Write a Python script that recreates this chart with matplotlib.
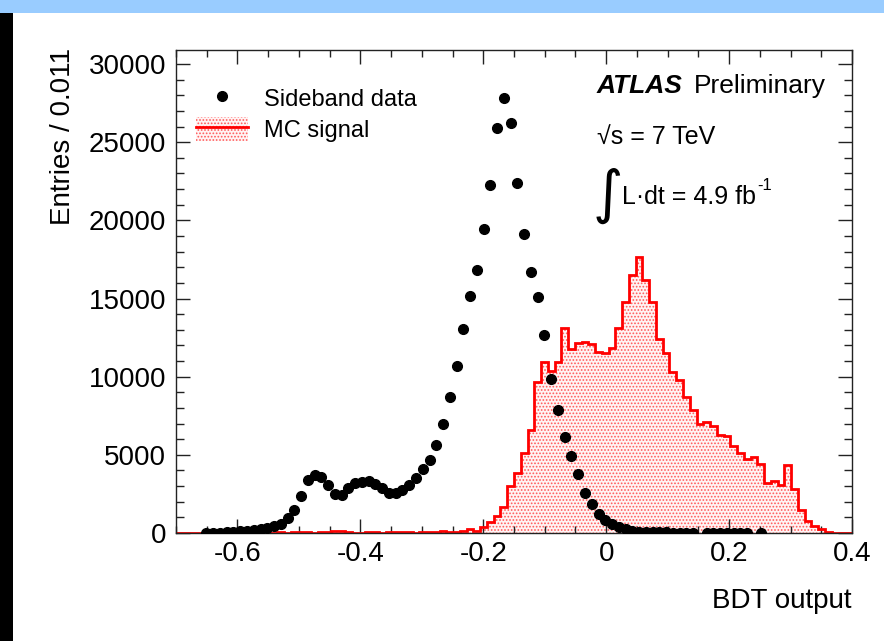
import numpy as np
import matplotlib
matplotlib.use("Agg")
import matplotlib.pyplot as plt
from matplotlib.patches import Rectangle, Patch
from matplotlib.lines import Line2D
from matplotlib.ticker import MultipleLocator

plt.rcParams["font.family"] = ["Liberation Sans", "DejaVu Sans"]
plt.rcParams["axes.unicode_minus"] = False
plt.rcParams["hatch.linewidth"] = 0.8

# Binning of the BDT output: 100 bins of width 0.011
x_min, x_max, n_bins = -0.7, 0.4, 100
edges = np.linspace(x_min, x_max, n_bins + 1)
centers = 0.5 * (edges[:-1] + edges[1:])

# Sideband data, entries per bin (0 = empty bin, not drawn)
sideband_data = np.array([
    0, 0, 0, 0, 10, 20, 30, 50, 80, 110,
    150, 200, 260, 340, 450, 600, 960, 1470, 2390, 3390,
    3730, 3560, 3070, 2500, 2450, 2900, 3180, 3280, 3310, 3140,
    2860, 2580, 2540, 2750, 3070, 3540, 4080, 4670, 5650, 7000,
    8700, 10700, 13030, 15140, 16810, 19430, 22250, 25930, 27830, 26250,
    22410, 19110, 16700, 15120, 12650, 9835, 7870, 6125, 4930, 3755,
    2580, 1835, 1215, 850, 580, 380, 240, 130, 80, 60,
    50, 40, 35, 30, 28, 25, 20, 0, 18, 15,
    12, 10, 9, 8, 6, 0, 5, 0, 0, 0,
    0, 0, 0, 0, 0, 0, 0, 0, 0, 0,
], dtype=float)

# MC signal, entries per bin
mc_signal = np.array([
    0, 0, 0, 10, 0, 20, 0, 10, 30, 0,
    20, 10, 40, 20, 30, 50, 20, 40, 90, 70,
    30, 40, 60, 120, 100, 40, 30, 20, 50, 40,
    30, 60, 80, 50, 40, 30, 70, 90, 60, 110,
    80, 90, 130, 240, 150, 400, 720, 1090, 1690, 3010,
    3820, 5100, 6590, 9680, 10920, 10390, 10960, 13100, 11760, 12180,
    12240, 12070, 11580, 11540, 11820, 13100, 14800, 16510, 17680, 16190,
    14800, 12400, 11540, 10320, 9790, 8680, 7870, 6980, 7120, 6850,
    6270, 6230, 5570, 5140, 4720, 4840, 4420, 3220, 3350, 3070,
    4350, 2800, 1470, 790, 450, 240, 85, 0, 0, 0,
], dtype=float)

x_ticks = [-0.6, -0.4, -0.2, 0, 0.2, 0.4]
x_tick_labels = ["-0.6", "-0.4", "-0.2", "0", "0.2", "0.4"]
y_ticks = [0, 5000, 10000, 15000, 20000, 25000, 30000]

W, H = 884, 641
fig = plt.figure(figsize=(W / 100, H / 100), dpi=100)


def fx(px):
    return px / W


def fy(py):
    return 1 - py / H


# frame decoration around the figure
fig.patches.append(Rectangle((0, fy(13)), 1, 13 / H, transform=fig.transFigure,
                             facecolor="#99ccff", edgecolor="none", zorder=0))
fig.patches.append(Rectangle((0, 0), 13 / W, fy(13), transform=fig.transFigure,
                             facecolor="black", edgecolor="none", zorder=0))

ax = fig.add_axes([fx(176), fy(533), (852 - 176) / W, (533 - 50) / H])

mc_color = "#ff0000"
hatch_color = (1.0, 0.35, 0.35)
ax.stairs(mc_signal, edges, fill=True, facecolor="#fff4f4", edgecolor=hatch_color,
          hatch=".....", linewidth=0, zorder=1)
ax.stairs(mc_signal, edges, color=mc_color, linewidth=2.0, zorder=2)

mask = sideband_data > 0
ax.plot(centers[mask], sideband_data[mask], "o", color="black",
        markersize=7, zorder=4, linestyle="none")

ax.set_xlim(x_min, x_max)
ax.set_ylim(0, 30900)
ax.set_xticks(x_ticks)
ax.set_xticklabels(x_tick_labels)
ax.set_yticks(y_ticks)
ax.set_yticklabels([str(v) for v in y_ticks])
ax.xaxis.set_minor_locator(MultipleLocator(0.05))
ax.yaxis.set_minor_locator(MultipleLocator(1000))
ax.tick_params(axis="both", which="both", direction="in", top=True, right=True,
               labelsize=20, width=1.0, color="#222222")
ax.tick_params(axis="x", which="major", length=10, pad=6)
ax.tick_params(axis="x", which="minor", length=5)
ax.tick_params(axis="y", which="major", length=10, pad=7)
ax.tick_params(axis="y", which="minor", length=6)
for s in ax.spines.values():
    s.set_linewidth(1.0)
    s.set_color("#222222")

fig.text(fx(852), fy(601), "BDT output", fontsize=20, ha="right", va="center")
fig.text(fx(63), fy(48), "Entries / 0.011", fontsize=20, rotation=90,
         ha="center", va="top")

# legend
data_handle = Line2D([], [], marker="o", color="black", linestyle="none",
                     markersize=7)
mc_box = Patch(facecolor="#fff4f4", edgecolor=hatch_color, hatch=".....", linewidth=0)
mc_line = Line2D([], [], color=mc_color, linewidth=2.0)
ax.legend([data_handle, (mc_box, mc_line)], ["Sideband data", "MC signal"],
          loc="upper left", bbox_to_anchor=(fx(196), fy(86)),
          bbox_transform=fig.transFigure, frameon=False, fontsize=17,
          handlelength=2.2, handleheight=1.2, handletextpad=0.7,
          labelspacing=0.25, borderpad=0, borderaxespad=0)

# experiment labels
fig.text(fx(597), fy(86), "ATLAS", fontsize=19, fontweight="bold",
         fontstyle="italic", ha="left", va="center")
fig.text(fx(694), fy(86), "Preliminary", fontsize=19, ha="left", va="center")
fig.text(fx(597), fy(137), "\u221as = 7 TeV", fontsize=18, ha="left", va="center")
fig.text(fx(593), fy(195), "\u222b", fontsize=42, family="DejaVu Sans",
         ha="left", va="center")
lumi = fig.text(fx(622), fy(197), "L\u00b7dt = 4.9 fb", fontsize=18,
                ha="left", va="center")
renderer = fig.canvas.get_renderer()
bb = lumi.get_window_extent(renderer)
fig.text((bb.x1 + 1) / W, fy(186), "-1", fontsize=12, ha="left", va="center")

fig.savefig("out.png", dpi=100)
